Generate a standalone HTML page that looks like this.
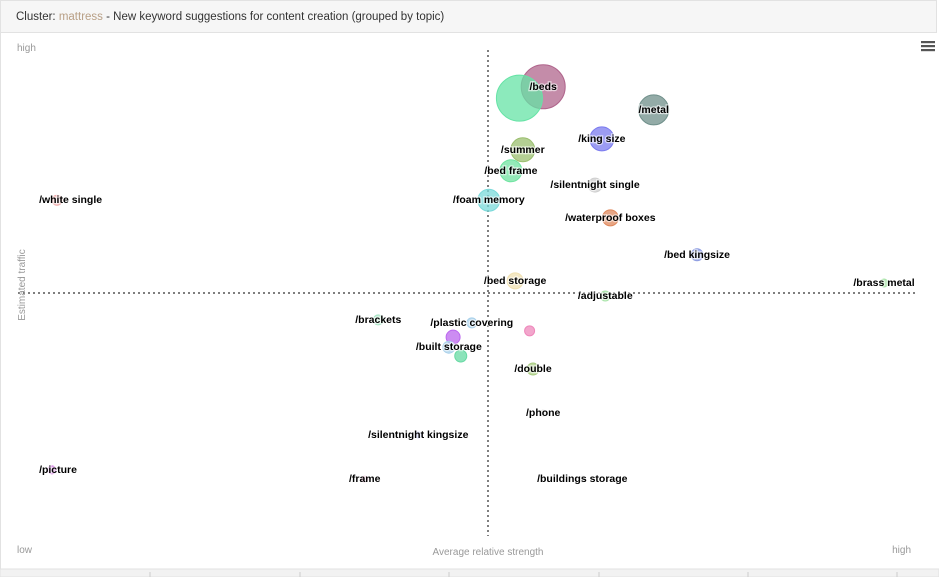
<!DOCTYPE html>
<html><head><meta charset="utf-8"><style>
body{margin:0;width:939px;height:577px;background:#fff;font-family:"Liberation Sans",sans-serif;overflow:hidden;position:relative}
#hdr{position:absolute;left:0;top:0;width:937px;height:33px;background:#f6f6f6;border:1px solid #e2e2e2;box-sizing:border-box;font-size:11.5px;color:#333;line-height:33px;padding-left:15px}
#hdr span{color:#b89f85}
svg{position:absolute;left:0;top:0}
</style></head><body>
<div id="hdr">Cluster: <span>mattress</span> - New keyword suggestions for content creation (grouped by topic)</div>
<svg id="chart" width="939" height="577"></svg>
<script>
const labels=["/beds","","/metal","/king size","/summer","/bed frame","/silentnight single","/foam memory","/white single","/waterproof boxes","/bed kingsize","/bed storage","/brass metal","/adjustable","/brackets","/plastic covering","","","/built storage","","/double","/phone","/silentnight kingsize","/picture","/frame","/buildings storage"];
const xVals=[59.2,56.4,72.2,66.1,56.8,55.4,65.3,52.8,2.0,67.1,77.3,55.9,99.3,66.5,39.8,50.8,57.6,48.6,48.1,49.5,58.0,59.2,44.5,1.4,38.2,63.8];
const yVals=[96.0,93.3,90.5,83.6,81.0,76.0,72.6,69.0,69.0,64.8,56.0,49.8,49.3,46.2,40.5,39.8,37.9,36.4,34.0,31.9,28.8,18.3,13.1,4.8,2.6,2.6];
const sizes=[22,23,15,12,12,11,7,11,5,8,6,8,4,5,5,5,5,7,6,6,6,3,3,4,3,3];
const colors=["#b0658c","#66e3a6","#6f8f8a","#7b7bef","#9bbf6f","#6fe3a0","#cfcfcf","#7ad9d9","#f0a8a8","#e0885c","#8a9ae0","#f0e0b0","#a8e4a8","#a8e4a8","#a8e4c4","#a8d0ea","#ee88bb","#bb66ee","#a8d0ea","#66d9a3","#a8cc80","#cfcfcf","#a8b0e8","#cc66dd","#e0a0c0","#cfcfcf"];
const X=v=>40+v*8.5, Y=v=>490-v*4.2;
const svg=document.getElementById('chart'),NS="http://www.w3.org/2000/svg";
function mk(t,a){const e=document.createElementNS(NS,t);for(const k in a)e.setAttribute(k,a[k]);svg.appendChild(e);return e;}
let e;
e=mk('line',{x1:0.5,y1:33,x2:0.5,y2:570,stroke:'#e2e2e2'});


e=mk('rect',{x:0,y:569,width:939,height:8,fill:'#f2f2f2',stroke:'#e2e2e2'});


[150,300,449,599,748,897].forEach(x=>{const t=mk('line',{x1:x,y1:572,x2:x,y2:577,stroke:'#ccc'});

});
e=mk('line',{x1:488,y1:50,x2:488,y2:536,stroke:'#555','stroke-dasharray':'2,3','stroke-width':1.5});


e=mk('line',{x1:18,y1:293,x2:918,y2:293,stroke:'#555','stroke-dasharray':'2,3','stroke-width':1.5});


function txt(s,x,y,a,name,extra){const t=mk('text',Object.assign({x:x,y:y,'font-size':10,fill:'#999','text-anchor':a},extra||{}));t.textContent=s;

return t;}
txt('high',17,51,'start','y-high-label');
txt('low',17,553,'start','x-low-label');
txt('high',911,553,'end','x-high-label');
txt('Average relative strength',488,555,'middle','x-axis-title');
txt('Estimated traffic',25,285,'middle','y-axis-title',{transform:'rotate(-90 25 285)'});
[42,46,50].forEach(y=>{const r=mk('rect',{x:921,y:y-1,width:14,height:2.2,fill:'#555'});

});
for(let i=0;i<labels.length;i++){
  const cx=X(xVals[i]),cy=Y(yVals[i]);
  const c=mk('circle',{cx:cx,cy:cy,r:sizes[i],fill:colors[i],'fill-opacity':0.75,stroke:colors[i],'stroke-opacity':1});
  
  
}
for(let i=0;i<labels.length;i++){
  if(!labels[i])continue;
  const cx=X(xVals[i]),cy=Y(yVals[i]);
  const t=mk('text',{x:cx,y:cy+3,'font-size':10.5,'font-weight':'bold',fill:'#000','text-anchor':'middle',stroke:'#fff','stroke-width':2.5,'paint-order':'stroke','stroke-opacity':0.6});
  t.textContent=labels[i];
  
  
  const w=t.getBBox().width;
  const lx=Math.max(39+w/2,Math.min(916-w/2,cx));
  t.setAttribute('x',lx);
}
</script>
</body></html>
